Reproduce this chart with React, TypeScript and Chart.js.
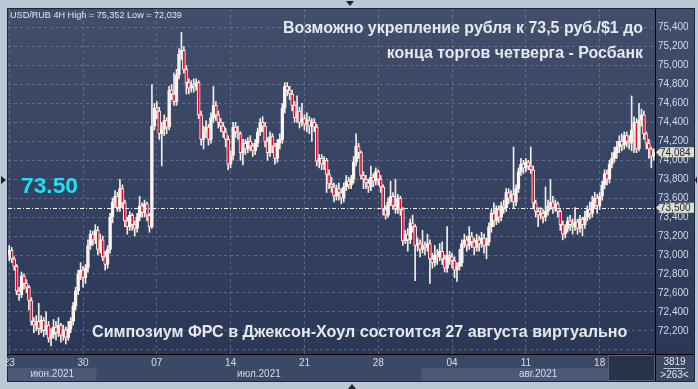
import React, { useEffect, useRef } from "react";
import { Chart, registerables } from "chart.js";
Chart.register(...registerables);

const FONT = "'Liberation Sans', Arial, sans-serif";

// 4H candles, USD/RUB, 23 Jun – 24 Aug 2021
const opens = [
  73.00, 73.05, 72.96, 72.88, 72.62, 72.58, 72.78, 72.70, 72.66, 72.52,
  72.30, 72.26, 72.30, 72.22, 72.31, 72.20, 72.26, 72.12, 72.16, 72.24,
  72.18, 72.26, 72.15, 72.21, 72.13, 72.22, 72.30, 72.46, 72.62, 72.80,
  72.84, 72.76, 72.86, 73.10, 73.22, 73.16, 73.26, 73.06, 73.16, 72.98,
  72.90, 73.06, 73.40, 73.56, 73.62, 73.50, 73.70, 73.55, 73.36, 73.30,
  73.42, 73.32, 73.28, 73.40, 73.52, 73.45, 73.54, 73.42, 73.30, 74.36,
  74.55, 74.52, 74.28, 74.33, 74.42, 74.35, 74.74, 74.70, 74.62, 74.90,
  75.12, 75.16, 74.96, 74.82, 74.76, 74.80, 74.78, 74.82, 74.48, 74.22,
  74.30, 74.35, 74.22, 74.45, 74.58, 74.48, 74.40, 74.36, 74.30, 74.22,
  73.96, 74.05, 74.35, 74.30, 74.28, 74.08, 74.18, 74.12, 74.20, 74.15,
  74.10, 74.18, 74.30, 74.40, 74.36, 74.20, 74.08, 74.25, 74.15, 74.02,
  74.18, 74.22, 74.55, 74.78, 74.74, 74.70, 74.58, 74.45, 74.52, 74.40,
  74.44, 74.38, 74.42, 74.36, 74.40, 74.35, 73.99, 74.02, 73.96, 74.00,
  73.85, 73.75, 73.72, 73.62, 73.70, 73.66, 73.60, 73.72, 73.78, 73.74,
  73.80, 73.98, 74.15, 74.08, 73.84, 73.80, 73.76, 73.72, 73.82, 73.78,
  73.88, 73.80, 73.72, 73.48, 73.42, 73.56, 73.62, 73.52, 73.48, 73.60,
  73.48, 73.15, 73.22, 73.16, 73.34, 73.30, 73.10, 73.12, 73.06, 73.10,
  73.08, 73.12, 72.96, 72.92, 73.00, 72.98, 73.04, 72.96, 72.86, 73.00,
  72.98, 72.94, 72.84, 72.88, 72.92, 73.12, 73.16, 73.10, 73.20, 73.14,
  73.08, 73.16, 73.12, 73.18, 73.10, 73.14, 73.30, 73.44, 73.36, 73.48,
  73.40, 73.52, 73.50, 73.66, 73.60, 73.64, 73.56, 73.70, 73.88, 73.96,
  73.92, 73.98, 73.94, 73.90, 73.55, 73.46, 73.42, 73.44, 73.40, 73.46,
  73.52, 73.56, 73.50, 73.54, 73.46, 73.32, 73.22, 73.28, 73.36, 73.32,
  73.30, 73.35, 73.28, 73.38, 73.32, 73.40, 73.48, 73.44, 73.56, 73.60,
  73.52, 73.62, 73.74, 73.86, 73.80, 73.96, 74.02, 74.08, 74.14, 74.20,
  74.16, 74.26, 74.20, 74.18, 74.32, 74.40, 74.12, 74.42, 74.48, 74.28,
  74.18, 74.12, 74.04,
];
const highs = [
  73.10, 73.08, 72.98, 72.90, 72.66, 72.82, 72.80, 72.74, 72.68, 72.55,
  72.34, 72.36, 72.49, 72.36, 72.34, 72.40, 72.30, 72.22, 72.32, 72.30,
  72.34, 72.28, 72.26, 72.24, 72.30, 72.34, 72.50, 72.66, 72.84, 72.92,
  72.88, 72.90, 73.16, 73.26, 73.25, 73.32, 73.30, 73.22, 73.20, 73.04,
  73.10, 73.44, 73.60, 73.68, 73.66, 73.80, 73.74, 73.58, 73.40, 73.46,
  73.44, 73.36, 73.44, 73.62, 73.55, 73.58, 73.56, 73.44, 74.80, 74.60,
  74.62, 74.56, 74.40, 74.48, 74.45, 74.78, 74.80, 74.92, 74.96, 75.18,
  75.35, 75.20, 75.00, 74.86, 74.84, 74.86, 74.86, 74.84, 74.52, 74.36,
  74.42, 74.38, 74.50, 74.78, 74.62, 74.52, 74.44, 74.40, 74.34, 74.26,
  74.10, 74.40, 74.40, 74.36, 74.30, 74.22, 74.22, 74.24, 74.26, 74.18,
  74.22, 74.34, 74.44, 74.46, 74.40, 74.24, 74.30, 74.28, 74.18, 74.22,
  74.28, 74.60, 74.82, 74.82, 74.78, 74.74, 74.62, 74.68, 74.56, 74.60,
  74.48, 74.50, 74.46, 74.44, 74.44, 74.38, 74.06, 74.06, 74.04, 74.02,
  73.90, 73.82, 73.76, 73.74, 73.76, 73.70, 73.76, 73.84, 73.82, 73.84,
  74.04, 74.28, 74.18, 74.10, 73.88, 73.84, 73.80, 73.94, 73.86, 73.92,
  73.90, 73.84, 73.74, 73.52, 73.60, 73.78, 73.66, 73.80, 73.64, 73.62,
  73.50, 73.26, 73.28, 73.38, 73.42, 73.32, 73.18, 73.16, 73.26, 73.14,
  73.22, 73.16, 73.02, 73.10, 73.06, 73.12, 73.14, 73.00, 73.30, 73.04,
  73.02, 72.98, 72.92, 73.06, 73.16, 73.22, 73.20, 73.30, 73.24, 73.18,
  73.22, 73.20, 73.24, 73.22, 73.18, 73.34, 73.48, 73.55, 73.52, 73.52,
  73.56, 73.58, 73.70, 73.70, 73.68, 74.14, 73.74, 73.92, 74.02, 74.00,
  74.02, 74.00, 74.14, 73.94, 73.58, 73.50, 73.50, 73.48, 73.72, 73.58,
  73.80, 73.62, 73.58, 73.56, 73.48, 73.36, 73.32, 73.40, 73.42, 73.38,
  73.50, 73.38, 73.42, 73.40, 73.46, 73.52, 73.56, 73.62, 73.66, 73.64,
  73.66, 73.78, 73.90, 73.90, 74.00, 74.08, 74.14, 74.20, 74.26, 74.28,
  74.30, 74.30, 74.26, 74.68, 74.46, 74.44, 74.60, 74.54, 74.52, 74.30,
  74.22, 74.14, 74.12,
];
const lows = [
  72.94, 72.92, 72.84, 72.58, 72.52, 72.55, 72.64, 72.60, 72.42, 72.26,
  72.18, 72.20, 72.16, 72.18, 72.14, 72.16, 72.08, 72.04, 72.12, 72.10,
  72.14, 72.08, 72.10, 72.06, 72.10, 72.18, 72.26, 72.42, 72.58, 72.74,
  72.66, 72.70, 72.82, 73.06, 73.10, 73.12, 73.00, 73.02, 72.94, 72.84,
  72.86, 73.02, 73.34, 73.50, 73.46, 73.46, 73.50, 73.30, 73.22, 73.26,
  73.26, 73.20, 73.24, 73.36, 73.40, 73.40, 73.36, 73.24, 73.28, 74.32,
  74.44, 74.22, 73.94, 74.26, 74.28, 74.32, 74.64, 74.58, 74.58, 74.86,
  75.06, 74.92, 74.70, 74.70, 74.72, 74.72, 74.74, 74.44, 74.16, 74.12,
  74.24, 74.16, 74.18, 74.40, 74.42, 74.34, 74.30, 74.24, 74.14, 73.90,
  73.92, 74.00, 74.24, 74.22, 74.00, 73.95, 74.06, 74.08, 74.10, 74.04,
  74.06, 74.14, 74.26, 74.30, 74.14, 74.00, 74.04, 74.08, 73.96, 73.98,
  74.12, 74.18, 74.50, 74.68, 74.64, 74.52, 74.40, 74.40, 74.34, 74.36,
  74.32, 74.30, 74.28, 74.20, 74.30, 73.94, 73.92, 73.90, 73.90, 73.66,
  73.70, 73.66, 73.56, 73.58, 73.58, 73.54, 73.56, 73.68, 73.70, 73.70,
  73.76, 73.94, 74.02, 73.80, 73.70, 73.70, 73.66, 73.68, 73.72, 73.74,
  73.74, 73.66, 73.42, 73.38, 73.40, 73.52, 73.48, 73.44, 73.44, 73.42,
  73.10, 73.12, 73.04, 73.12, 73.24, 72.73, 73.04, 72.98, 73.02, 73.00,
  73.04, 72.70, 72.86, 72.88, 72.90, 72.94, 72.90, 72.82, 72.82, 72.90,
  72.86, 72.76, 72.72, 72.84, 72.88, 73.08, 73.04, 73.06, 73.08, 73.00,
  73.04, 73.04, 73.08, 73.02, 72.96, 73.10, 73.24, 73.30, 73.32, 73.34,
  73.36, 73.44, 73.46, 73.54, 73.56, 73.50, 73.52, 73.66, 73.84, 73.86,
  73.88, 73.90, 73.86, 73.50, 73.40, 73.30, 73.38, 73.34, 73.36, 73.42,
  73.48, 73.44, 73.46, 73.40, 73.26, 73.16, 73.18, 73.24, 73.26, 73.22,
  73.26, 73.22, 73.24, 73.20, 73.28, 73.36, 73.38, 73.40, 73.50, 73.44,
  73.48, 73.58, 73.70, 73.74, 73.76, 73.92, 73.98, 74.02, 74.08, 74.10,
  74.12, 74.14, 74.12, 74.10, 74.08, 74.08, 74.10, 74.36, 74.22, 74.12,
  74.02, 73.92, 74.00,
];
const closes = [
  73.05, 72.96, 72.88, 72.62, 72.58, 72.78, 72.70, 72.66, 72.52, 72.30,
  72.26, 72.30, 72.22, 72.31, 72.20, 72.26, 72.12, 72.16, 72.24, 72.18,
  72.26, 72.15, 72.21, 72.13, 72.22, 72.30, 72.46, 72.62, 72.80, 72.84,
  72.76, 72.86, 73.10, 73.22, 73.16, 73.26, 73.06, 73.16, 72.98, 72.90,
  73.06, 73.40, 73.56, 73.62, 73.50, 73.70, 73.55, 73.36, 73.30, 73.42,
  73.32, 73.28, 73.40, 73.52, 73.45, 73.54, 73.42, 73.30, 74.36, 74.55,
  74.52, 74.28, 74.33, 74.42, 74.35, 74.74, 74.70, 74.62, 74.90, 75.12,
  75.16, 74.96, 74.82, 74.76, 74.80, 74.78, 74.82, 74.48, 74.22, 74.30,
  74.35, 74.22, 74.45, 74.58, 74.48, 74.40, 74.36, 74.30, 74.22, 73.96,
  74.05, 74.35, 74.30, 74.28, 74.08, 74.18, 74.12, 74.20, 74.15, 74.10,
  74.18, 74.30, 74.40, 74.36, 74.20, 74.08, 74.25, 74.15, 74.02, 74.18,
  74.22, 74.55, 74.78, 74.74, 74.70, 74.58, 74.45, 74.52, 74.40, 74.44,
  74.38, 74.42, 74.36, 74.40, 74.35, 73.99, 74.02, 73.96, 74.00, 73.85,
  73.75, 73.72, 73.62, 73.70, 73.66, 73.60, 73.72, 73.78, 73.74, 73.80,
  73.98, 74.15, 74.08, 73.84, 73.80, 73.76, 73.72, 73.82, 73.78, 73.88,
  73.80, 73.72, 73.48, 73.42, 73.56, 73.62, 73.52, 73.48, 73.60, 73.48,
  73.15, 73.22, 73.16, 73.34, 73.30, 73.10, 73.12, 73.06, 73.10, 73.08,
  73.12, 72.96, 72.92, 73.00, 72.98, 73.04, 72.96, 72.86, 73.00, 72.98,
  72.94, 72.84, 72.88, 72.92, 73.12, 73.16, 73.10, 73.20, 73.14, 73.08,
  73.16, 73.12, 73.18, 73.10, 73.14, 73.30, 73.44, 73.36, 73.48, 73.40,
  73.52, 73.50, 73.66, 73.60, 73.64, 73.56, 73.70, 73.88, 73.96, 73.92,
  73.98, 73.94, 73.90, 73.55, 73.46, 73.42, 73.44, 73.40, 73.46, 73.52,
  73.56, 73.50, 73.54, 73.46, 73.32, 73.22, 73.28, 73.36, 73.32, 73.30,
  73.35, 73.28, 73.38, 73.32, 73.40, 73.48, 73.44, 73.56, 73.60, 73.52,
  73.62, 73.74, 73.86, 73.80, 73.96, 74.02, 74.08, 74.14, 74.20, 74.16,
  74.26, 74.20, 74.18, 74.32, 74.40, 74.12, 74.42, 74.48, 74.28, 74.18,
  74.12, 74.04, 74.08,
];

const dayLabels = ["23", "30", "07", "14", "21", "28", "04", "11", "18"];
const dayTickIndex = [0, 30, 60, 90, 120, 150, 180, 210, 240];
const monthLabels = ["июн.2021", "июл.2021", "авг.2021"];
const monthStartIndex = [0, 36, 168];
const futureStartIndex = 244;

const yMin = 71.955;
const yMax = 75.597;
const yStep = 0.2;

const levelPrice = 73.5;
const levelText = "73.50";
const levelTag = "73,500";
const lastPrice = 74.084;
const lastTag = "74,084";
const headerText = "USD/RUB 4H High = 75,352 Low = 72,039";
const titleLines = ["Возможно укрепление рубля к 73,5 руб./$1 до", "конца торгов четверга - Росбанк"];
const footerText = "Симпозиум ФРС в Джексон-Хоул состоится 27 августа виртуально";
const cornerTop = "3819";
const cornerBottom = ">263<";

const fmt = (v: number) => v.toFixed(3).replace(".", ",");

function fitFont(ctx: CanvasRenderingContext2D, text: string, weight: string, width: number) {
  ctx.font = `${weight} 20px ${FONT}`;
  const w = ctx.measureText(text).width;
  const size = (20 * width) / w;
  ctx.font = `${weight} ${size.toFixed(2)}px ${FONT}`;
}

const PANEL_R = 694;
const STRIP_B = 381;
const GRID = "rgba(125,140,170,0.55)";

function tri(ctx: CanvasRenderingContext2D, pts: number[]) {
  ctx.beginPath();
  ctx.moveTo(pts[0], pts[1]);
  ctx.lineTo(pts[2], pts[3]);
  ctx.lineTo(pts[4], pts[5]);
  ctx.closePath();
  ctx.fill();
}

const decor = {
  id: "decor",
  beforeDraw(chart: any) {
    const { ctx, width, height, chartArea: ca, scales } = chart;
    const xs = scales.x;
    ctx.save();
    ctx.fillStyle = "#bcc7d6";
    ctx.fillRect(0, 0, width, height);
    const g = ctx.createLinearGradient(0, ca.top, 0, ca.bottom);
    g.addColorStop(0, "#414e6c");
    g.addColorStop(1, "#2b3756");
    ctx.fillStyle = g;
    ctx.fillRect(ca.left, ca.top, PANEL_R - ca.left, ca.bottom - ca.top);
    ctx.fillStyle = "#3c4965";
    ctx.fillRect(ca.left, ca.bottom, PANEL_R - ca.left, STRIP_B - ca.bottom);

    const edge = (i: number) =>
      i <= 0 ? ca.left : (xs.getPixelForValue(i - 1) + xs.getPixelForValue(i)) / 2;
    const mid = ca.bottom + 14;
    ctx.font = `10px ${FONT}`;
    ctx.textAlign = "center";
    ctx.textBaseline = "middle";
    monthStartIndex.forEach((s, k) => {
      const l = edge(s);
      const r = k + 1 < monthStartIndex.length ? edge(monthStartIndex[k + 1]) : ca.right;
      if (k % 2 === 0) {
        ctx.fillStyle = "#4b5977";
        ctx.fillRect(l, mid, r - l, STRIP_B - mid);
      }
    });
    const fx = edge(futureStartIndex);
    ctx.fillStyle = "#28324a";
    ctx.fillRect(fx, ca.bottom + 1, ca.right - fx, STRIP_B - ca.bottom - 1);
    ctx.strokeStyle = "#56627c";
    ctx.lineWidth = 1;
    ctx.strokeRect(Math.round(fx) + 0.5, ca.bottom + 1.5, ca.right - Math.round(fx) - 1, STRIP_B - ca.bottom - 2);
    monthStartIndex.forEach((s, k) => {
      const l = edge(s);
      const r = k + 1 < monthStartIndex.length ? edge(monthStartIndex[k + 1]) : ca.right;
      ctx.fillStyle = "#d5dce8";
      ctx.fillText(monthLabels[k], (l + r) / 2, mid + 6.5);
    });

    ctx.strokeStyle = "#1e2536";
    ctx.strokeRect(ca.left - 0.5, ca.top - 0.5, PANEL_R - ca.left + 1, STRIP_B - ca.top + 1);
    ctx.strokeStyle = "#000000";
    ctx.beginPath();
    ctx.moveTo(ca.right + 0.5, ca.top);
    ctx.lineTo(ca.right + 0.5, STRIP_B);
    ctx.moveTo(ca.left, ca.bottom + 0.5);
    ctx.lineTo(PANEL_R, ca.bottom + 0.5);
    ctx.stroke();

    // frame markers
    ctx.fillStyle = "#1b202c";
    const cy = 180;
    tri(ctx, [1, cy - 4, 6, cy, 1, cy + 4]);
    tri(ctx, [697, cy - 4, 695, cy, 697, cy + 4]);
    tri(ctx, [346, 1, 354, 1, 350, 6]);
    tri(ctx, [348, 389, 356, 389, 352, 384]);
    ctx.restore();
  },
  afterDatasetsDraw(chart: any) {
    const { ctx, chartArea: ca, scales } = chart;
    const ys = scales.y;
    ctx.save();
    const ly = Math.round(ys.getPixelForValue(levelPrice)) + 0.5;
    ctx.strokeStyle = "#f0f0f0";
    ctx.setLineDash([4, 2, 1, 2]);
    ctx.lineWidth = 1;
    ctx.beginPath();
    ctx.moveTo(ca.left, ly);
    ctx.lineTo(ca.right, ly);
    ctx.stroke();
    ctx.setLineDash([]);

    ctx.textBaseline = "alphabetic";
    ctx.textAlign = "left";
    fitFont(ctx, levelText, "bold", 57);
    ctx.fillStyle = "#22def5";
    ctx.fillText(levelText, 21, 193);

    fitFont(ctx, headerText, "normal", 172);
    ctx.fillStyle = "#e2e7f0";
    ctx.fillText(headerText, 10, 18);

    fitFont(ctx, titleLines[0], "bold", 360);
    ctx.fillStyle = "#e6e8ec";
    ctx.textAlign = "right";
    ctx.fillText(titleLines[0], 643, 33);
    ctx.fillText(titleLines[1], 643, 58);

    ctx.textAlign = "left";
    fitFont(ctx, footerText, "bold", 536);
    ctx.fillText(footerText, 92, 337);
    ctx.restore();
  },
  afterDraw(chart: any) {
    const { ctx, chartArea: ca, scales } = chart;
    const ys = scales.y;
    ctx.save();
    // clip label overflow on left frame
    ctx.fillStyle = "#bcc7d6";
    ctx.fillRect(0, ca.bottom, ca.left - 1, STRIP_B - ca.bottom + 1);
    const tag = (v: number, text: string) => {
      const y = ys.getPixelForValue(v);
      ctx.fillStyle = "#dcdfcf";
      ctx.beginPath();
      ctx.moveTo(ca.right + 1, y);
      ctx.lineTo(ca.right + 6, y - 5);
      ctx.lineTo(PANEL_R, y - 5);
      ctx.lineTo(PANEL_R, y + 5);
      ctx.lineTo(ca.right + 6, y + 5);
      ctx.closePath();
      ctx.fill();
      ctx.fillStyle = "#1c2233";
      ctx.font = `10px ${FONT}`;
      ctx.textAlign = "left";
      ctx.textBaseline = "middle";
      ctx.fillText(text, ca.right + 5, y + 0.5);
    };
    tag(lastPrice, lastTag);
    tag(levelPrice, levelTag);

    const cx = (ca.right + PANEL_R) / 2;
    ctx.fillStyle = "#dfe5ef";
    ctx.font = `10px ${FONT}`;
    ctx.textAlign = "center";
    ctx.textBaseline = "middle";
    ctx.fillText(cornerTop, cx, ca.bottom + 8);
    ctx.fillText(cornerBottom, cx, ca.bottom + 21);
    ctx.strokeStyle = "#b8c2d2";
    ctx.beginPath();
    ctx.moveTo(cx - 11, ca.bottom + 14.5);
    ctx.lineTo(cx + 11, ca.bottom + 14.5);
    ctx.stroke();
    ctx.restore();
  },
};

export default function App() {
  const ref = useRef<HTMLCanvasElement>(null);
  useEffect(() => {
    if (!ref.current) return;
    const categories = closes.map((_, i) => String(i));
    const bodyColors = closes.map((c, i) => (c >= opens[i] ? "#fbf5ee" : "#e4062e"));
    const chart = new Chart(ref.current, {
      type: "bar",
      data: {
        labels: categories,
        datasets: [
          {
            label: "wick",
            data: lows.map((l, i) => [l, highs[i]]) as any,
            backgroundColor: "#f5eee6",
            borderWidth: 0,
            barThickness: 1,
            grouped: false,
            order: 2,
          } as any,
          {
            label: "body",
            data: opens.map((o, i) => [o, closes[i]]) as any,
            backgroundColor: bodyColors,
            borderColor: "#f8f2eb",
            borderWidth: 1,
            borderSkipped: false,
            barThickness: 3,
            minBarLength: 1,
            grouped: false,
            order: 1,
          } as any,
        ],
      },
      options: {
        responsive: false,
        animation: false,
        devicePixelRatio: 1,
        layout: { padding: { left: 8, top: 8, right: 4, bottom: 8 } },
        plugins: { legend: { display: false }, tooltip: { enabled: false } },
        scales: {
          x: {
            type: "category",
            offset: true,
            grid: {
              offset: false,
              drawTicks: false,
              lineWidth: 1,
              color: (c: any) => (dayTickIndex.includes(c.index) ? GRID : "rgba(0,0,0,0)"),
            },
            border: { display: false, dash: [3, 3] },
            ticks: {
              autoSkip: false,
              maxRotation: 0,
              minRotation: 0,
              color: "#d8dee9",
              font: { size: 10, family: FONT },
              padding: 3,
              callback: (_v: any, i: number) => {
                const k = dayTickIndex.indexOf(i);
                return k >= 0 ? dayLabels[k] : "";
              },
            },
            afterFit: (s: any) => {
              s.height = 27;
            },
          },
          y: {
            position: "right",
            min: yMin,
            max: yMax,
            grid: { color: GRID, drawTicks: false, lineWidth: 1 },
            border: { display: false, dash: [3, 3] },
            ticks: {
              stepSize: yStep,
              includeBounds: false,
              color: "#d3dae6",
              font: { size: 10, family: FONT },
              padding: 3,
              callback: (v: any) => (Number(v) < 72.1 ? "" : fmt(Number(v))),
            },
            afterFit: (s: any) => {
              s.width = 39;
            },
          },
        },
      } as any,
      plugins: [decor],
    });
    return () => chart.destroy();
  }, []);
  return (
    <div style={{ position: "fixed", left: 0, top: 0, width: 698, height: 389 }}>
      <canvas ref={ref} width={698} height={389} style={{ display: "block" }} />
    </div>
  );
}
